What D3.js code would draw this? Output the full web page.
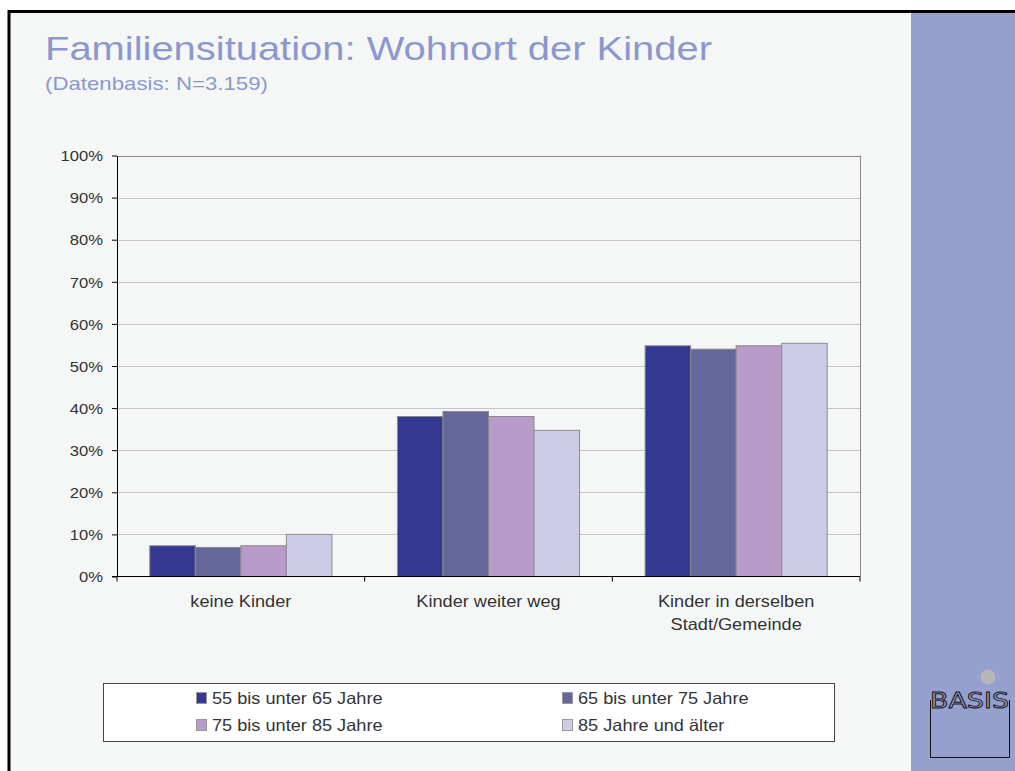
<!DOCTYPE html>
<html>
<head>
<meta charset="utf-8">
<script src="https://cdn.jsdelivr.net/npm/d3@7"></script>
<style>
  body { margin: 0; background: #ffffff; }
  svg { display: block; font-family: "Liberation Sans", Arial, sans-serif; }
</style>
</head>
<body>
<svg id="chart" width="1015" height="771"></svg>
<script>
// chart data
const categories = ["keine Kinder", "Kinder weiter weg", "Kinder in derselben\nStadt/Gemeinde"];
const seriesNames = ["55 bis unter 65 Jahre", "65 bis unter 75 Jahre", "75 bis unter 85 Jahre", "85 Jahre und älter"];
const values = [
  [7.3, 38.0, 54.8],
  [6.9, 39.2, 54.0],
  [7.3, 38.0, 54.8],
  [10.0, 34.7, 55.4]
];
const yTicks = [0, 10, 20, 30, 40, 50, 60, 70, 80, 90, 100];
const colors = ["#333891", "#65669a", "#b89bc8", "#cecbe6"];

const svg = d3.select("#chart");

// the original font runs wider than Liberation Sans, so stretch a little
function widen(sel, f) {
  sel.each(function () {
    const w = this.getComputedTextLength();
    d3.select(this).attr("textLength", w * f).attr("lengthAdjust", "spacingAndGlyphs");
  });
}

// slide background + frame
svg.append("rect").attr("x", 0).attr("y", 0).attr("width", 1015).attr("height", 771).attr("fill", "#ffffff");
svg.append("rect").attr("x", 9).attr("y", 12).attr("width", 902).attr("height", 759).attr("fill", "#f5f7f6");
svg.append("rect").attr("x", 911).attr("y", 12).attr("width", 104).attr("height", 759).attr("fill", "#96a0cf");
svg.append("line").attr("x1", 8).attr("x2", 1015).attr("y1", 11.5).attr("y2", 11.5)
  .attr("stroke", "#000").attr("stroke-width", 3);
svg.append("line").attr("x1", 9).attr("x2", 9).attr("y1", 10).attr("y2", 771)
  .attr("stroke", "#000").attr("stroke-width", 3);

// title
svg.append("text").attr("x", 45).attr("y", 59.5)
  .attr("font-size", 33.5).attr("fill", "#8c97cf")
  .attr("textLength", 667).attr("lengthAdjust", "spacingAndGlyphs")
  .text("Familiensituation: Wohnort der Kinder");
svg.append("text").attr("x", 45).attr("y", 89.5)
  .attr("font-size", 18.5).attr("fill", "#8c97cf")
  .attr("textLength", 223).attr("lengthAdjust", "spacingAndGlyphs")
  .text("(Datenbasis: N=3.159)");

// plot area
const plotLeft = 117, plotRight = 860, plotTop = 155.5, plotBottom = 576.5;

const x0 = d3.scaleBand().domain(categories).range([plotLeft, plotRight]).paddingInner(0).paddingOuter(0);
const x1 = d3.scaleBand().domain(seriesNames).range([0, x0.bandwidth()]).paddingInner(0).paddingOuter(0.72);
const y = d3.scaleLinear().domain([0, 100]).range([plotBottom, plotTop]);

// gridlines
svg.append("g").selectAll("line").data(yTicks.filter(d => d > 0)).join("line")
  .attr("x1", plotLeft).attr("x2", plotRight)
  .attr("y1", d => Math.round(y(d)) + 0.5).attr("y2", d => Math.round(y(d)) + 0.5)
  .attr("stroke", d => d === 100 ? "#888" : "#c4c4c4").attr("stroke-width", 1);
svg.append("line").attr("x1", plotRight + 0.5).attr("x2", plotRight + 0.5).attr("y1", plotTop).attr("y2", plotBottom)
  .attr("stroke", "#888");

// bars
const groups = svg.append("g").selectAll("g").data(seriesNames).join("g")
  .attr("fill", (d, i) => colors[i]);
groups.selectAll("rect").data((s, i) => categories.map((c, j) => ({ s, c, v: values[i][j] }))).join("rect")
  .attr("x", d => x0(d.c) + x1(d.s))
  .attr("y", d => y(d.v))
  .attr("width", x1.bandwidth())
  .attr("height", d => y(0) - y(d.v))
  .attr("stroke", "#8a8a8e").attr("stroke-width", 1);

// y axis
const yAxis = d3.axisLeft(y).tickValues(yTicks).tickFormat(d => d + "%").tickSize(5).tickSizeOuter(0);
const yg = svg.append("g").attr("transform", `translate(${plotLeft},0)`).call(yAxis);
yg.select(".domain").attr("stroke", "#000");
yg.selectAll(".tick line").attr("stroke", "#000");
yg.selectAll(".tick text").attr("font-size", 15.5).attr("fill", "#333")
  .attr("font-family", "Liberation Sans, Arial, sans-serif").attr("x", -14).attr("dy", "0.34em")
  .call(widen, 1.07);

// x axis
const xg = svg.append("g").attr("transform", `translate(0,${plotBottom})`);
xg.append("line").attr("x1", plotLeft - 5).attr("x2", plotRight).attr("y1", 0).attr("y2", 0).attr("stroke", "#000");
const edges = [plotLeft].concat(categories.map(c => x0(c) + x0.bandwidth()));
xg.selectAll(".edge").data(edges).join("line").attr("class", "edge")
  .attr("x1", d => d).attr("x2", d => d).attr("y1", 0).attr("y2", 5).attr("stroke", "#000");
const catLines = categories.flatMap(c => c.split("\n").map((line, i) => ({ c, line, i })));
xg.selectAll(".cat").data(catLines).join("text").attr("class", "cat")
  .attr("text-anchor", "middle").attr("font-size", 16.5).attr("fill", "#333")
  .attr("x", d => x0(d.c) + x0.bandwidth() / 2)
  .attr("y", d => 30 + d.i * 23.5)
  .text(d => d.line)
  .call(widen, 1.1);

// legend
const lg = svg.append("g");
lg.append("rect").attr("x", 103.5).attr("y", 683.5).attr("width", 731).attr("height", 58)
  .attr("fill", "#ffffff").attr("stroke", "#444").attr("stroke-width", 1);
const legX = [196, 562], legY = [698, 725];
seriesNames.forEach((s, i) => {
  const lx = legX[i % 2], ly = legY[Math.floor(i / 2)];
  lg.append("rect").attr("x", lx + 0.5).attr("y", ly - 5.5).attr("width", 10).attr("height", 11)
    .attr("fill", colors[i]).attr("stroke", "#999").attr("stroke-width", 1);
  lg.append("text").attr("x", lx + 16).attr("y", ly + 6.3).attr("font-size", 16.5).attr("fill", "#333")
    .text(s).call(widen, 1.1);
});

// logo
const logo = svg.append("g");
logo.append("circle").attr("cx", 988).attr("cy", 677).attr("r", 7.5).attr("fill", "#b6b6b8");
logo.append("path")
  .attr("d", "M930.5,700 L930.5,757.5 L1009.5,757.5 L1009.5,700")
  .attr("fill", "none").attr("stroke", "#111").attr("stroke-width", 1);
logo.append("text").attr("x", 930).attr("y", 708).attr("font-size", 22)
  .attr("font-family", "DejaVu Sans Condensed, Liberation Sans Narrow, sans-serif")
  .attr("textLength", 79).attr("lengthAdjust", "spacingAndGlyphs")
  .attr("fill", "#96a0cf").attr("stroke", "#111").attr("stroke-width", 0.8)
  .text("BASIS");
</script>
</body>
</html>
